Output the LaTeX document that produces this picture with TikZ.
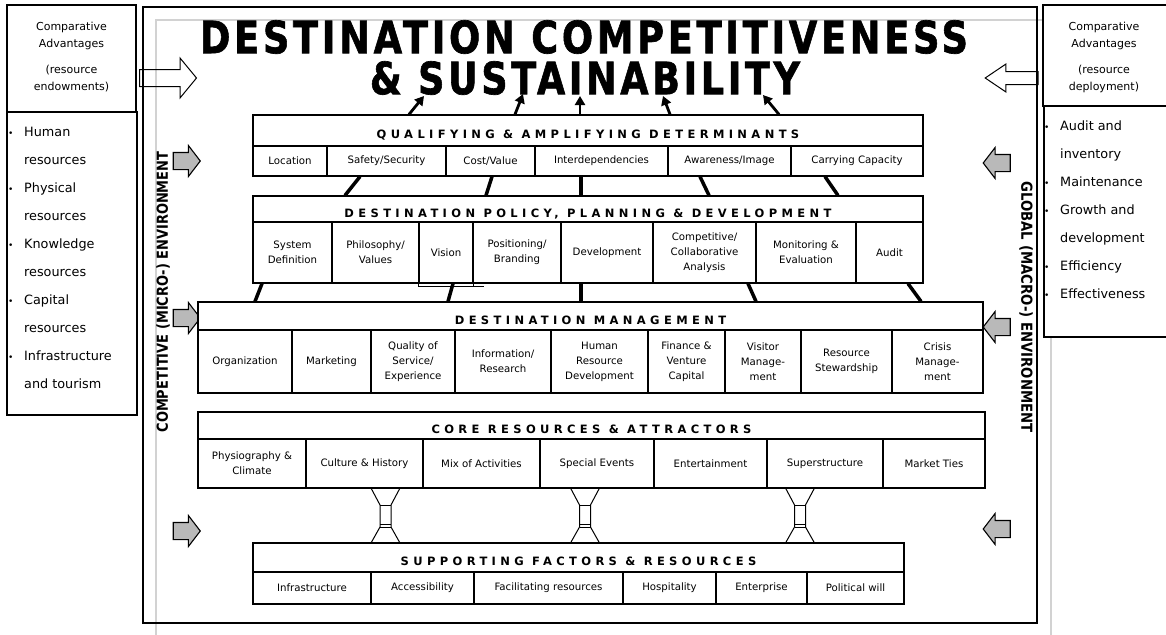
\documentclass[tikz,border=0pt]{standalone}
\usepackage{fontspec}
\usepackage{graphicx}
\setmainfont{DejaVu Sans}
\newfontfamily\hdfont[LetterSpace=38]{DejaVu Sans}
\newfontfamily\ttlfont[FakeBold=1.5, LetterSpace=10]{DejaVu Sans Bold}
\newfontfamily\envfont{DejaVu Sans Bold}
\usetikzlibrary{arrows.meta, shapes.arrows}

\newcommand{\itm}{\makebox[16pt][l]{\fontsize{9}{9}\selectfont\textbullet}}
\newcommand{\cnt}{\makebox[16pt]{}}
\newcommand{\hd}[1]{\raisebox{-8pt}[0pt][0pt]{#1}}

\begin{document}
\begin{tikzpicture}[x=1pt, y=-1pt,
    box/.style={draw, line width=1.2pt, fill=white},
    hdr/.style={draw, line width=1.2pt, fill=white, inner sep=0pt,
      font=\hdfont\bfseries\fontsize{11.5}{13}\selectfont},
    cell/.style={draw, line width=1.2pt, fill=white, inner sep=1pt, align=center,
      font=\fontsize{10.2}{15}\selectfont},
    listtxt/.style={align=left, inner sep=0pt, font=\fontsize{12.8}{28}\selectfont},
    cmptxt/.style={align=center, inner sep=0pt, font=\fontsize{11}{17}\selectfont},
    link/.style={line width=3.5pt},
    uparrow/.style={line width=2.8pt, -{Triangle[length=9pt, width=10pt]}},
    garrow/.style={single arrow, draw, line width=1.1pt, fill=gray!55, inner xsep=0pt,
      inner ysep=8pt, single arrow head extend=7pt, single arrow tip angle=105,
      minimum height=27pt},
    harrow/.style={single arrow, draw, line width=1pt, inner xsep=0pt},
    pillar/.style={line width=1pt}]

  \useasboundingbox (0,0) rectangle (1166,634);

  % inner grey frame and outer frame
  \draw[gray!35, line width=1.2pt] (156,640) -- (156,20) -- (1051,20) -- (1051,640);
  \draw[line width=1.6pt] (143,7) rectangle (1037,623);

  % comparative advantages, left
  \node[box, minimum width=129pt, minimum height=107pt] (cadl) at (71.5,58.5) {};
  \node[cmptxt] (cadltxt) at (71.5,57) {Comparative\\Advantages\\[9pt](resource\\endowments)};
  \node[box, minimum width=130pt, minimum height=303pt] (resl) at (72,263.5) {};
  \node[listtxt, anchor=north west] (resltxt) at (8,127) {\itm Human\\\cnt resources\\\itm Physical\\\cnt resources\\
    \itm Knowledge\\\cnt resources\\\itm Capital\\\cnt resources\\\itm Infrastructure\\\cnt and tourism};

  % comparative advantages, right
  \node[box, minimum width=125pt, minimum height=101pt] (cadr) at (1105.5,55.5) {};
  \node[cmptxt] (cadrtxt) at (1104,57) {Comparative\\Advantages\\[9pt](resource\\deployment)};
  \node[box, minimum width=124pt, minimum height=231pt] (resr) at (1106,221.5) {};
  \node[listtxt, anchor=north west] (resrtxt) at (1044,121) {\itm Audit and\\\cnt inventory\\\itm Maintenance\\
    \itm Growth and\\\cnt development\\\itm Efficiency\\\itm Effectiveness};

  % hollow arrows into the frame
  \node[harrow, minimum height=57pt, inner ysep=8pt, single arrow head extend=11.5pt,
    single arrow tip angle=101] (inl) at (164.5,78) {};
  \node[harrow, rotate=180, minimum height=53pt, inner ysep=6pt, single arrow head extend=7.5pt,
    single arrow tip angle=68] (inr) at (1016.5,78) {};

  % environments
  \node[rotate=90, inner sep=0pt] (micro) at (163,292)
    {\resizebox{281pt}{11.5pt}{\envfont COMPETITIVE (MICRO-) ENVIRONMENT}};
  \node[rotate=-90, inner sep=0pt] (macro) at (1026,307)
    {\resizebox{251pt}{11.5pt}{\envfont GLOBAL (MACRO-) ENVIRONMENT}};

  % grey arrows
  \foreach \y [count=\i] in {161,318,531}
    \node[garrow] (gl\i) at (183.5,\y) {};
  \foreach \y [count=\i] in {163,327,529}
    \node[garrow, rotate=180] (gr\i) at (1000,\y) {};

  % title
  \node[inner sep=0pt] (ttl1) at (584,37) {\resizebox{768pt}{33pt}{\ttlfont DESTINATION COMPETITIVENESS}};
  \node[inner sep=0pt] (ttl2) at (585,78) {\resizebox{430pt}{33pt}{\ttlfont \& SUSTAINABILITY}};

  % qualifying & amplifying determinants
  \node[hdr, minimum width=670pt, minimum height=31pt] (qhead) at (588,130.5) {\hd{QUALIFYING \& AMPLIFYING DETERMINANTS}};
  \foreach \l/\r/\t [count=\i] in {253/327/Location, 327/446/{Safety/Security}, 446/535/{Cost/Value},
      535/668/Interdependencies, 668/791/{Awareness/Image}, 791/923/{Carrying Capacity}}
    \node[cell, minimum width={(\r-\l)*1pt}, minimum height=30pt] (q\i) at ({(\l+\r)/2},161) {\t};

  % destination policy, planning & development
  \node[hdr, minimum width=670pt, minimum height=26pt] (phead) at (588,209) {\hd{DESTINATION POLICY, PLANNING \& DEVELOPMENT}};
  \foreach \l/\r/\t [count=\i] in {253/332/{System\\Definition}, 332/419/{Philosophy/\\Values}, 419/473/Vision,
      473/561/{Positioning/\\Branding}, 561/653/Development, 653/756/{Competitive/\\Collaborative\\Analysis},
      756/856/{Monitoring \&\\Evaluation}, 856/923/Audit}
    \node[cell, minimum width={(\r-\l)*1pt}, minimum height=61pt] (p\i) at ({(\l+\r)/2},252.5) {\t};
  \draw[line width=1.2pt] (p3.south west) -- ++(0,2.5) -- ++(66,0);
  \draw[line width=1.2pt] (p3.south east) -- ++(0,2.5);

  % destination management
  \node[hdr, minimum width=785pt, minimum height=28pt] (mhead) at (590.5,316) {\hd{DESTINATION MANAGEMENT}};
  \foreach \l/\r/\t [count=\i] in {198/292/Organization, 292/371/Marketing, 371/455/{Quality of\\Service/\\Experience},
      455/551/{Information/\\Research}, 551/648/{Human\\Resource\\Development}, 648/725/{Finance \&\\Venture\\Capital},
      725/801/{Visitor\\Manage-\\ment}, 801/892/{Resource\\Stewardship}, 892/983/{Crisis\\Manage-\\ment}}
    \node[cell, minimum width={(\r-\l)*1pt}, minimum height=63pt] (m\i) at ({(\l+\r)/2},361.5) {\t};

  % core resources & attractors
  \node[hdr, minimum width=787pt, minimum height=27pt] (chead) at (591.5,425.5) {\hd{CORE RESOURCES \& ATTRACTORS}};
  \foreach \l/\r/\t [count=\i] in {198/306/{Physiography \&\\Climate}, 306/423/{Culture \& History},
      423/540/{Mix of Activities}, 540/654/{Special Events}, 654/767/Entertainment, 767/883/Superstructure,
      883/985/{Market Ties}}
    \node[cell, minimum width={(\r-\l)*1pt}, minimum height=49pt] (c\i) at ({(\l+\r)/2},463.5) {\t};

  % supporting factors & resources
  \node[hdr, minimum width=651pt, minimum height=29pt] (shead) at (578.5,557.5) {\hd{SUPPORTING FACTORS \& RESOURCES}};
  \foreach \l/\r/\t [count=\i] in {253/371/Infrastructure, 371/474/Accessibility, 474/623/{Facilitating resources},
      623/716/Hospitality, 716/807/Enterprise, 807/904/{Political will}}
    \node[cell, minimum width={(\r-\l)*1pt}, minimum height=32pt] (s\i) at ({(\l+\r)/2},588) {\t};

  % links between the levels
  \foreach \a/\b/\c in {409/424/96, 515/523/94, 580/580/96, 670/663/96, 779/763/95}
    \draw[uparrow] (\a,0 |- qhead.north) -- (\b,\c);
  \foreach \a/\b in {360/345, 492/486, 581/581, 700/709, 825/838}
    \draw[link] (\a,0 |- q1.south) -- (\b,0 |- phead.north);
  \foreach \a/\b in {262/255, 453/448, 581/581, 748/756, 908/921}
    \draw[link] (\a,0 |- p1.south) -- (\b,0 |- mhead.north);

  % pillars
  \foreach \x in {385.5,585,800} {
    \draw[pillar] (\x-14.5,488) -- (\x-5.5,505) -- (\x-5.5,527) -- (\x-14.5,543);
    \draw[pillar] (\x+14.5,488) -- (\x+5.5,505) -- (\x+5.5,527) -- (\x+14.5,543);
    \draw[pillar] (\x-5.5,505) -- (\x+5.5,505) (\x-5.5,524) -- (\x+5.5,524) (\x-5.5,527) -- (\x+5.5,527);
  }
\end{tikzpicture}
\end{document}
